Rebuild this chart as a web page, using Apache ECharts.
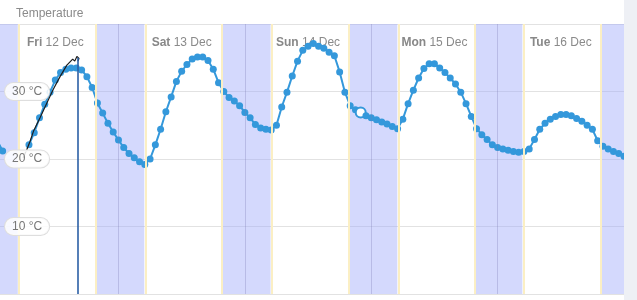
<!DOCTYPE html>
<html><head><meta charset="utf-8">
<script src="https://cdn.jsdelivr.net/npm/echarts@6/dist/echarts.min.js"></script>
<style>html,body{margin:0;padding:0;background:#fff}#c{width:637px;height:300px}</style>
</head><body><div id="c"></div>
<script>
// hours from Fri 12 Dec 00:00, hourly forecast temperatures (°C)
const temps = [23.6,22.7,21.2,null,null,null,null,22.1,23.9,26.1,28.1,29.9,31.7,32.8,33.3,33.5,33.5,33.2,32.2,30.6,28.3,26.8,25.3,24.0,
22.8,21.7,20.8,20.2,19.6,19.2,20.0,22.1,24.4,27.0,29.2,31.5,33.0,34.0,34.8,35.1,35.1,34.6,33.3,31.3,30.0,29.1,28.6,27.9,
26.9,26.1,25.1,24.6,24.4,24.3,25.0,27.7,29.9,32.3,34.5,36.1,36.7,37.1,36.7,36.4,35.8,35.3,32.9,29.9,27.9,27.3,26.9,26.4,
26.1,25.8,25.5,25.2,24.8,24.5,25.9,28.2,30.2,32.0,33.4,34.1,34.1,33.5,32.8,32.0,31.1,29.9,28.2,26.3,24.5,23.6,22.9,22.1,
21.7,21.5,21.3,21.1,21.0,21.1,21.5,22.9,24.4,25.3,25.9,26.3,26.6,26.6,26.4,26.0,25.6,25.0,24.4,22.7,21.9,21.5,21.1,20.8,20.4];
const highlightHour = 70;
// observed temperature trace (hour, °C)
const obsHours = [5.9,6.6,7.2,7.85,9.1,10.4,11.6,12.9,14.2,14.8,15.3,15.7,16.1,16.5,16.3];
const obsTemps = [20.2,21.4,22.6,24.1,26.1,28.3,30.3,32.2,33.9,34.4,34.8,34.5,35.2,34.9,34.5];
const nowHour = 16.32, nowTemp = 35.0;
const sunsets = [19.85,43.8,67.88,91.83,115.8];
const sunrises = [4.88,28.9,52.88,76.95,100.7];
const midnights = [24,48,72,96];
const dayNoon = [12,36,60,84,108];
const dayNames = ['Fri','Sat','Sun','Mon','Tue'];
const dayDates = ['12 Dec','13 Dec','14 Dec','15 Dec','16 Dec'];
const yTicks = [10,20,30];
const xMin = 1.5, xMax = 120;

const blue = '#3498db';
const data = temps.map((t,i)=> {
  if (i === highlightHour) return {value:[i,t], symbolSize:10, itemStyle:{color:'#fff',borderColor:blue,borderWidth:2}};
  return [i,t];
});
const obs = obsHours.map((h,i)=>[h,obsTemps[i]]);

const bands = [[{xAxis:xMin},{xAxis:sunrises[0]}]];
for (let i=0;i<sunsets.length;i++){
  bands.push([{xAxis:sunsets[i]},{xAxis: i+1<sunrises.length ? sunrises[i+1] : xMax}]);
}
const edgeLines = [];
sunsets.forEach(s=>edgeLines.push({xAxis:s-0.22}));
sunrises.forEach(s=>edgeLines.push({xAxis:s+0.22}));

const chart = echarts.init(document.getElementById('c'), null, {renderer:'canvas'});
chart.setOption({
  animation:false,
  textStyle:{fontFamily:'Liberation Sans, Arial, sans-serif'},
  title:{text:'Temperature', left:11, top:3, textStyle:{fontSize:12, fontWeight:'normal', color:'#8a8a8a'}},
  grid:{left:0, right:13, top:24, bottom:6},
  graphic:[{type:'rect', shape:{x:624,y:0,width:13,height:300}, style:{fill:'#eef0f5'}, z:100}],
  xAxis:{type:'value', min:xMin, max:xMax, position:'top',
    axisLine:{show:false}, axisTick:{show:false}, splitLine:{show:false},
    axisLabel:{inside:true, margin:13, customValues:dayNoon,
      formatter:(v)=>{const i=dayNoon.indexOf(v); return i<0?'':'{b|'+dayNames[i]+'} {n|'+dayDates[i]+'}';},
      rich:{b:{fontWeight:'bold',fontSize:12,color:'#888'}, n:{fontSize:12,color:'#8a8a8a'}}}},
  yAxis:[
    {type:'value', min:0, max:40, interval:10, position:'left',
      axisLine:{show:false}, axisTick:{show:false}, axisLabel:{show:false},
      splitLine:{lineStyle:{color:'#e2e2e2', width:1}}},
    {type:'value', min:0, max:40, interval:10, z:10, position:'left', offset:0,
      axisLine:{show:false}, axisTick:{show:false}, splitLine:{show:false},
      axisLabel:{inside:true, margin:5, showMinLabel:false, showMaxLabel:false,
        formatter:(v)=> yTicks.indexOf(v)>=0 ? v+' °C' : '',
        fontSize:12, color:'#777', backgroundColor:'rgba(255,255,255,0.85)',
        borderColor:'#dedede', borderWidth:1, borderRadius:9, padding:[3,7,2,7]}}
  ],
  series:[
    {type:'line', data:data, yAxisIndex:0, symbol:'circle', symbolSize:7, showSymbol:true,
      connectNulls:false, lineStyle:{color:blue, width:2}, itemStyle:{color:blue}, z:3,
      markArea:{silent:true, itemStyle:{color:'rgba(160,170,250,0.45)'}, data:bands},
      markLine:{silent:true, symbol:'none', label:{show:false},
        data:[
          ...edgeLines.map(d=>Object.assign({lineStyle:{color:'#fbefc4', width:2, type:'solid'}}, d)),
          ...midnights.map(m=>({xAxis:m, lineStyle:{color:'rgba(120,120,175,0.3)', width:1, type:'solid'}}))
        ]}},
    {type:'line', data:obs, symbol:'none', lineStyle:{color:'#1c1c1c', width:1.2}, z:4,
      markLine:{silent:true, symbol:'none', label:{show:false},
        data:[[{coord:[nowHour,nowTemp]},{coord:[nowHour,0]}]],
        lineStyle:{color:'#2b5fa5', width:1.6, type:'solid'}}}
  ]
});
</script></body></html>
